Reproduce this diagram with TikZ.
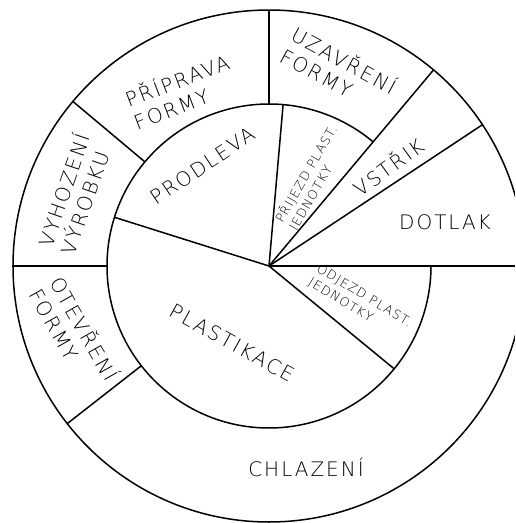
\documentclass[tikz,border=0pt]{standalone}
\usepackage{fontspec}
\newfontfamily\cadfont{DejaVu Sans ExtraLight}[LetterSpace=10]
\usetikzlibrary{calc}

\begin{document}
\begin{tikzpicture}[x=1pt, y=1pt, line width=1.5pt,
  phase/.style={font=\cadfont\fontsize{20}{24}\selectfont, inner sep=0pt},
  smallphase/.style={font=\cadfont\fontsize{12.5}{16}\selectfont, inner sep=0pt, align=left}]
\useasboundingbox (-269,-257) rectangle (246,266);
\clip (-269,-257) rectangle (246,266);
\coordinate (hub) at (0,0);
% rings
\draw (hub) circle[radius=256];
\draw (50:162) arc[start angle=50, end angle=360, radius=162];
% spokes through both rings
\foreach \a in {0,33.5,50} \draw (hub) -- (\a:256);
% spokes of the inner disc
\foreach \a in {85,162.5,320.6} \draw (hub) -- (\a:162);
% spokes of the outer ring
\foreach \a in {90,140,180,218} \draw (\a:162) -- (\a:256);
% phases
\node[phase] (dotlak) at (176,44) {DOTLAK};
\node[phase, rotate=36] (vstrik) at (119,100) {VSTŘIK};
\node[phase, align=left, rotate=-28.5] (uzavreni) at (70,196) {UZAVŘENÍ\\FORMY};
\node[phase, align=left, rotate=21] (priprava) at (-88,175) {PŘÍPRAVA\\FORMY};
\node[phase, align=left, rotate=71] (vyhozeni) at (-195,72) {VYHOZENÍ\\VÝROBKU};
\node[phase, align=left, rotate=-60.5] (otevreni) at (-194,-68) {OTEVŘENÍ\\FORMY};
\node[phase] (chlazeni) at (37,-201) {CHLAZENÍ};
\node[phase, rotate=-29] (plastikace) at (-37,-77) {PLASTIKACE};
\node[phase, rotate=34] (prodleva) at (-66,100) {PRODLEVA};
\node[smallphase, rotate=60] (prijezd) at (44,88) {PŘIJEZD PLAST.\\JEDNOTKY};
\node[smallphase, rotate=-31] (odjezd) at (91,-37) {ODJEZD PLAST.\\JEDNOTKY};
\end{tikzpicture}
\end{document}
